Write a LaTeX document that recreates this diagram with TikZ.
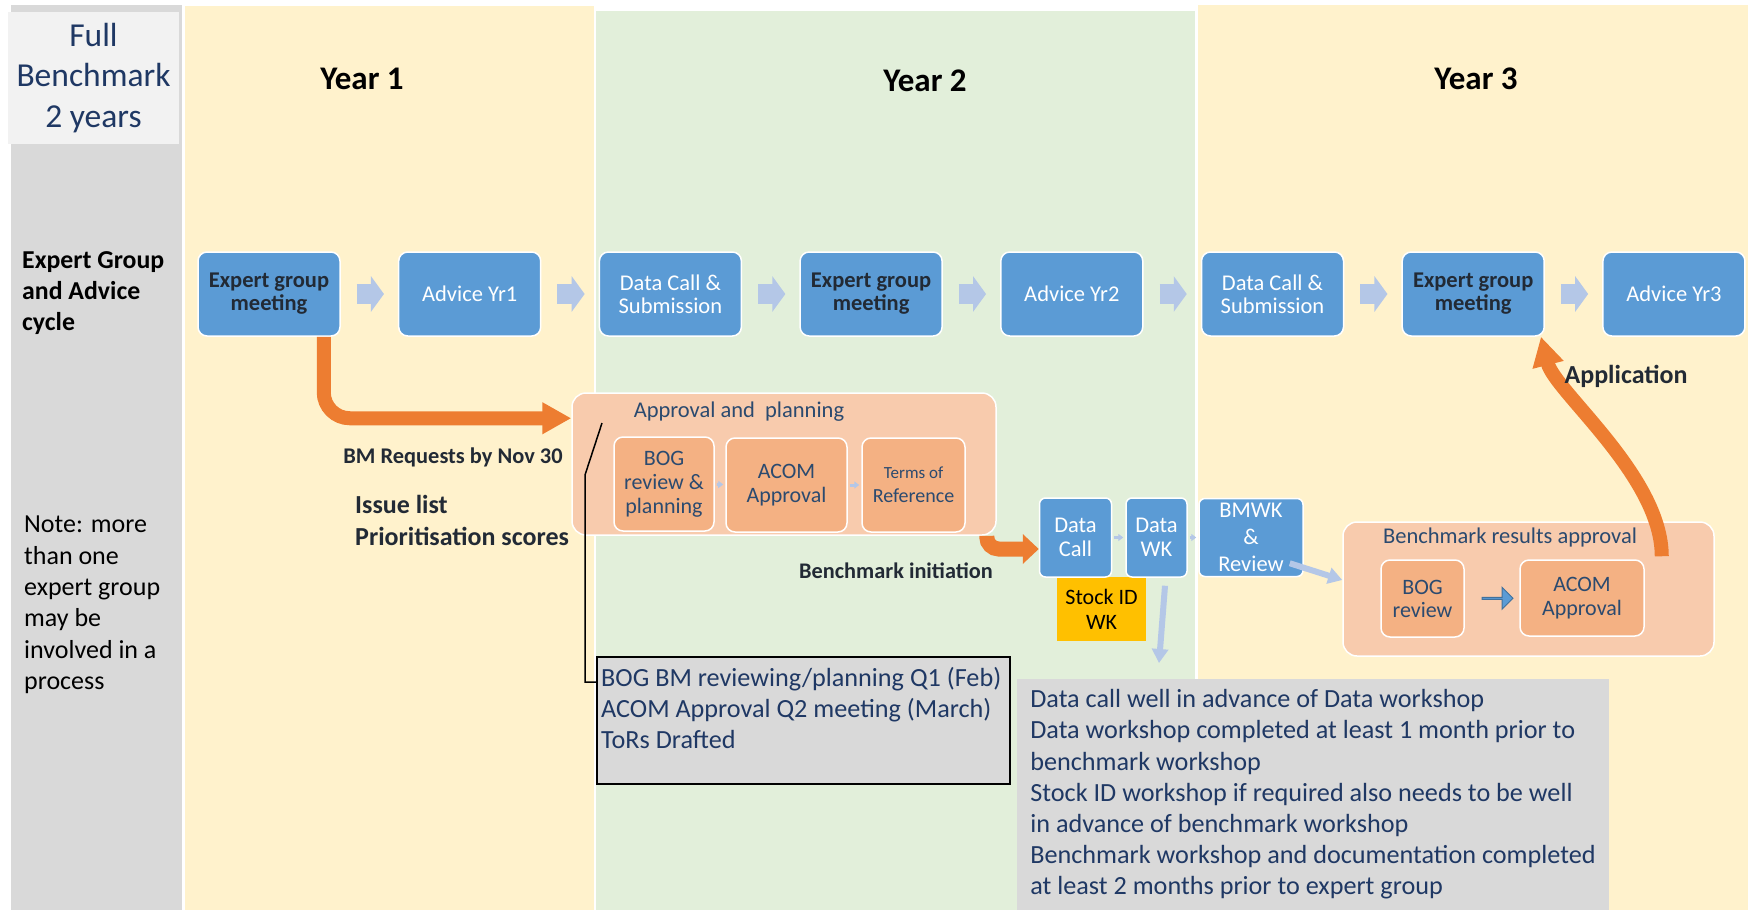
\documentclass[tikz,border=0pt]{standalone}
\usepackage{fontspec}
\setmainfont{Carlito}
\usetikzlibrary{positioning,arrows.meta,shapes.arrows,calc}

\definecolor{yellowbg}{HTML}{FFF2CC}
\definecolor{greenbg}{HTML}{E2EFDA}
\definecolor{graybg}{HTML}{D9D9D9}
\definecolor{lightbg}{HTML}{F2F2F2}
\definecolor{boxblue}{HTML}{5B9BD5}
\definecolor{outlineblue}{HTML}{41719C}
\definecolor{arrowblue}{HTML}{B4C7E7}
\definecolor{peach}{HTML}{F8CBAD}
\definecolor{peachdark}{HTML}{F4B183}
\definecolor{orangearr}{HTML}{ED7D31}
\definecolor{gold}{HTML}{FFC000}
\definecolor{navy}{HTML}{1F3864}
\definecolor{darktext}{HTML}{222A35}
\definecolor{subtext}{HTML}{2B4A6F}

\newcommand{\fsz}[2]{\fontsize{#1}{#2}\selectfont}

\tikzset{
  stage/.style={rectangle, rounded corners=9pt, draw=white, line width=1.5pt,
    fill=boxblue, text=white, align=center, minimum width=142pt,
    minimum height=84pt, inner sep=2pt, font=\fsz{22.5}{23}},
  stagebold/.style={stage, text=darktext, font=\fsz{22.5}{23}\bfseries},
  smallstage/.style={stage, rounded corners=6pt, font=\fsz{22.5}{24}},
  groupbox/.style={rectangle, rounded corners=14pt, fill=peach, draw=white, line width=1.5pt},
  grouptitle/.style={text=subtext, font=\fsz{22.5}{24}},
  substep/.style={rectangle, rounded corners=9pt, fill=peachdark, draw=white,
    line width=1.5pt, text=subtext, align=center, inner sep=2pt, font=\fsz{22}{24}},
  yeartitle/.style={text=black, font=\fsz{33}{38}\bfseries},
  rowlabel/.style={text=black, align=left, inner sep=2pt, font=\fsz{25.8}{31}\bfseries},
  notelbl/.style={text=black, align=left, inner sep=2pt, font=\fsz{26}{31.4}},
  boldlbl/.style={text=darktext, align=left, inner sep=2pt, font=\fsz{22.3}{26}\bfseries},
  notetext/.style={text=navy, align=left, inner sep=2pt, font=\fsz{26.2}{31.2}},
  flowarrow/.style={draw=arrowblue, line width=20pt, -{Triangle[length=13pt,width=35pt]},
    shorten <=16pt, shorten >=14pt},
  lightarrow/.style={draw=arrowblue, line width=6pt, -{Triangle[length=14pt,width=16pt]}},
  tinyarrow/.style={draw=arrowblue, line width=3pt, -{Triangle[length=5pt,width=7pt]},
    shorten <=2pt, shorten >=2pt},
  orangearrow/.style={draw=orangearr, line width=14pt, -{Triangle[length=29pt,width=30pt]}},
  bluearrow/.style={shape=single arrow, fill=boxblue, draw=outlineblue, line width=1pt,
    minimum height=31pt, minimum width=22pt, single arrow head extend=5pt, inner sep=0pt},
  linkline/.style={draw=black, line width=1.5pt}
}

\begin{document}
\begin{tikzpicture}[x=1pt,y=-1pt]
\useasboundingbox (0,0) rectangle (1748,910);

% year columns
\fill[graybg] (11,5) rectangle (182,910);
\fill[yellowbg] (185,6) rectangle (594,910);
\fill[greenbg] (596,11) rectangle (1195,910);
\fill[yellowbg] (1198,5) rectangle (1748,910);

\node[fill=lightbg, minimum width=171pt, minimum height=132pt, text=navy,
  align=center, font=\fsz{33.5}{40.5}] (full) at (93.5,78) {Full\\Benchmark\\2 years};

\node[yeartitle] (yr1) at (362,79) {Year 1};
\node[yeartitle] (yr2) at (925,81) {Year 2};
\node[yeartitle] (yr3) at (1476,79) {Year 3};

\node[rowlabel, anchor=west] (cyclelbl) at (20,293) {Expert Group\\and Advice\\cycle};
\node[notelbl, anchor=west] (note) at (22,605) {Note: more\\than one\\expert group\\may be\\involved in a\\process};

% advice cycle
\node[stagebold] (s1) at (269,294) {Expert group\\meeting};
\node[stage, right=57.2pt of s1] (s2) {Advice Yr1};
\node[stage, right=57.2pt of s2] (s3) {Data Call \&\\Submission};
\node[stagebold, right=57.2pt of s3] (s4) {Expert group\\meeting};
\node[stage, right=57.2pt of s4] (s5) {Advice Yr2};
\node[stage, right=57.2pt of s5] (s6) {Data Call \&\\Submission};
\node[stagebold, right=57.2pt of s6] (s7) {Expert group\\meeting};
\node[stage, right=57.2pt of s7] (s8) {Advice Yr3};

\foreach \a/\b in {s1/s2,s2/s3,s3/s4,s4/s5,s5/s6,s6/s7,s7/s8}
  \draw[flowarrow] (\a) -- (\b);

% approval and planning
\node[groupbox, minimum width=424pt, minimum height=142pt] (appr) at (784,464) {};
\node[grouptitle] (apprtitle) at (739,412) {Approval and\ \ planning};
\node[substep, minimum width=100pt, minimum height=94pt] (bog) at (664,484) {BOG\\review \&\\planning};
\node[substep, minimum width=121pt, minimum height=94pt] (acom) at (786.5,485) {ACOM\\Approval};
\node[substep, minimum width=103pt, minimum height=94pt] (tor) at (913.5,485)
  {{\fsz{17}{21}Terms of}\\{\fsz{20}{21}Reference}};
\draw[tinyarrow] (bog) -- (acom);
\draw[tinyarrow] (acom) -- (tor);

\draw[orangearrow, rounded corners=26pt] ([xshift=-17pt]s1.south east) |- ([yshift=-26pt]appr.north west);
\node[boldlbl, font=\fsz{22.4}{26}\bfseries] (bmreq) at (453,457) {BM Requests by Nov 30};
\node[boldlbl, anchor=west, font=\fsz{26}{32}\bfseries] (issues) at (353,520) {Issue list\\Prioritisation scores};

% benchmark workshops
\node[fill=gold, minimum width=89pt, minimum height=64pt, align=center,
  inner sep=2pt, font=\fsz{22}{25}] (stock) at (1101.5,609) {Stock ID\\WK};
\node[smallstage, minimum width=72pt, minimum height=79pt] (dcall) at (1075.5,537.5) {Data\\Call};
\node[smallstage, minimum width=61pt, minimum height=79pt] (dwk) at (1156.5,537.5) {Data\\WK};
\node[smallstage, minimum width=104pt, minimum height=78pt, font=\fsz{22.5}{27}] (bmwk) at (1251,537.5) {BMWK\\\&\\Review};
\draw[tinyarrow] (dcall) -- (dwk);
\draw[tinyarrow] (dwk) -- (bmwk);

\draw[orangearrow, line width=15pt, -{Triangle[length=16pt,width=29pt]}, rounded corners=12pt]
  ([xshift=-10pt]appr.south east) |- ([yshift=-11.5pt]dcall.west);
\node[boldlbl] (bminit) at (896,571) {Benchmark initiation};

% benchmark results approval
\node[groupbox, minimum width=371pt, minimum height=134pt] (res) at (1528.5,589) {};
\node[grouptitle] (restitle) at (1510,537) {Benchmark results approval};
\node[substep, minimum width=83pt, minimum height=77pt, font=\fsz{22}{23}] (rbog) at (1422.5,598.5) {BOG\\review};
\node[substep, minimum width=124pt, minimum height=76pt] (racom) at (1582,598) {ACOM\\Approval};
\node[bluearrow] (resarrow) at ([xshift=5pt]$(rbog.east)!0.5!(racom.west)$) {};

\draw[lightarrow] ([xshift=-14pt,yshift=14pt]bmwk.south east) -- ([yshift=9pt]res.west);
\coordinate (dwkdown) at (1159,663);
\draw[lightarrow] ([xshift=8.5pt,yshift=-8pt]dwk.south) -- (dwkdown);

\draw[orangearrow] ([xshift=-53pt,yshift=-35pt]res.north east)
  .. controls +(0,-80) and +(14,55) .. ([xshift=-4pt]s7.south east);
\node[boldlbl, font=\fsz{26}{30}\bfseries] (applbl) at (1626,376) {Application};

% notes
\node[draw=black, line width=2pt, fill=graybg, minimum width=413pt, minimum height=127pt] (bognote) at (803.5,720.5) {};
\node[notetext, anchor=north west] (bogtext) at ([xshift=3pt,yshift=-9pt]bognote.north west)
  {BOG BM reviewing/planning Q1 (Feb)\\ACOM Approval Q2 meeting (March)\\ToRs Drafted};
\coordinate (linktop) at (602,423);
\draw[linkline] (linktop) -- ++(-17,52) |- ([yshift=38.5pt]bognote.west);

\node[notetext, fill=graybg, minimum width=592pt, minimum height=231pt] (datanote) at (1313,794.5)
  {Data call well in advance of Data workshop\\
   Data workshop completed at least 1 month prior to\\
   benchmark workshop\\
   Stock ID workshop if required also needs to be well\\
   in advance of benchmark workshop\\
   Benchmark workshop and documentation completed\\
   at least 2 months prior to expert group};
\end{tikzpicture}
\end{document}
